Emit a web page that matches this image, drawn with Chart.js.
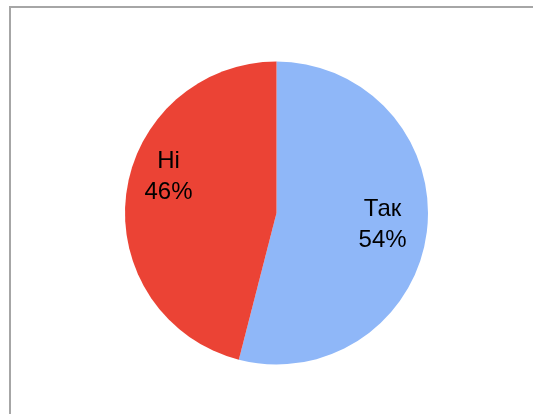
<!DOCTYPE html>
<html>
<head>
<meta charset="utf-8">
<script src="https://cdn.jsdelivr.net/npm/chart.js@4.4.1/dist/chart.umd.min.js"></script>
<style>
  html, body { margin: 0; padding: 0; background: #fff; overflow: hidden; }
  canvas { display: block; }
</style>
</head>
<body>
<canvas id="c" width="533" height="414"></canvas>
<script>
const categories = ["Так", "Ні"];
const values = [54, 46];
const percentLabels = ["54%", "46%"];
const colors = ["#8fb7f8", "#eb4335"];

const framePlugin = {
  id: 'frame',
  beforeDraw(chart) {
    const ctx = chart.ctx;
    ctx.save();
    ctx.fillStyle = '#fff';
    ctx.fillRect(0, 0, chart.width, chart.height);
    ctx.fillStyle = '#a6a6a6';
    ctx.fillRect(9, 6, chart.width - 9, 2);
    ctx.fillRect(9, 6, 2, chart.height - 6);
    ctx.restore();
  }
};

const labelPlugin = {
  id: 'sliceLabels',
  afterDatasetsDraw(chart) {
    const ctx = chart.ctx;
    const meta = chart.getDatasetMeta(0);
    const tweaks = [ {f: 0.703, da: -0.033}, {f: 0.756, da: 0.213} ];
    ctx.save();
    ctx.font = '24px "Liberation Sans", Arial, sans-serif';
    ctx.fillStyle = '#000';
    ctx.textAlign = 'center';
    ctx.textBaseline = 'alphabetic';
    meta.data.forEach((arc, i) => {
      const p = arc.getProps(['x','y','startAngle','endAngle','outerRadius'], true);
      const mid = (p.startAngle + p.endAngle) / 2 + tweaks[i].da;
      const r = p.outerRadius * tweaks[i].f;
      const x = p.x + Math.cos(mid) * r;
      const y = p.y + Math.sin(mid) * r;
      ctx.fillText(categories[i], x, y - 15.5 + 8.5);
      ctx.fillText(percentLabels[i], x, y + 15.5 + 8.5);
    });
    ctx.restore();
  }
};

new Chart(document.getElementById('c'), {
  type: 'pie',
  data: {
    labels: categories,
    datasets: [{
      data: values,
      backgroundColor: colors,
      borderWidth: 0
    }]
  },
  options: {
    responsive: false,
    animation: false,
    layout: { padding: { left: 125, right: 105, top: 61, bottom: 49 } },
    plugins: { legend: { display: false }, tooltip: { enabled: false } }
  },
  plugins: [framePlugin, labelPlugin]
});
</script>
</body>
</html>
